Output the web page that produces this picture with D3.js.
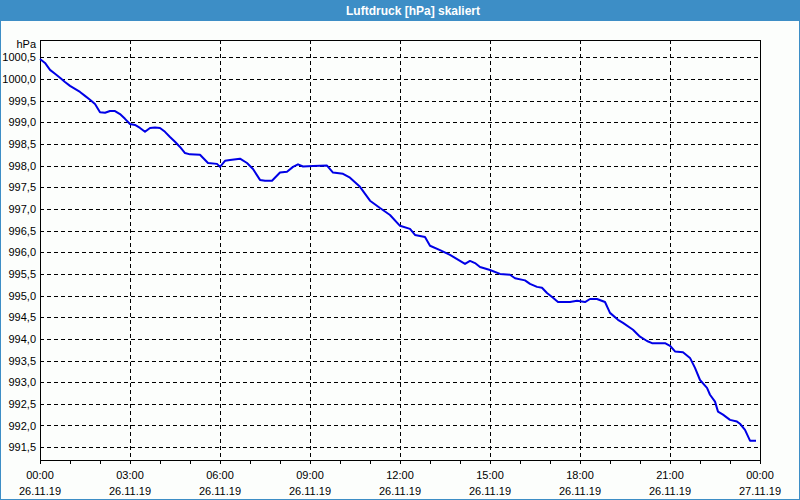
<!DOCTYPE html>
<html><head><meta charset="utf-8">
<script src="https://cdn.jsdelivr.net/npm/d3@7"></script>
<style>
html,body{margin:0;padding:0;background:#fff;}
svg{display:block;}
text{font-family:"Liberation Sans",Arial,sans-serif;}
</style></head>
<body>
<svg id="chart" width="800" height="500"></svg>
<script>
const title = "Luftdruck [hPa] skaliert";
const unitLabel = "hPa";
const dayStart = "2019-11-26T00:00";
const dayEnd = "2019-11-27T00:00";
const times = ["00:00","00:10","00:20","00:30","00:40","00:50","01:00","01:10","01:20","01:30","01:40","01:50",
"02:00","02:10","02:20","02:30","02:40","02:50","03:00","03:10","03:20","03:30","03:40","03:50",
"04:00","04:10","04:20","04:30","04:40","04:50","05:00","05:20","05:36","05:54","06:00","06:10","06:20","06:40","06:54",
"07:06","07:20","07:30","07:44","08:00","08:14","08:26","08:36","08:46","09:06","09:34","09:46",
"10:06","10:20","10:40","11:00","11:20","11:40","12:00","12:20","12:30","12:50","13:00","13:20","13:40",
"14:00","14:10","14:20","14:30","14:40","15:00","15:20","15:40","15:50","16:10","16:20","16:34","16:44","16:54",
"17:06","17:16","17:40","17:54","18:10","18:20","18:34","18:50","19:00","19:16","19:26","19:46",
"20:00","20:14","20:24","20:50","21:00","21:10","21:26","21:40","21:50","22:00","22:14","22:20","22:30","22:36","22:46",
"23:00","23:14","23:20","23:30","23:40","23:52"];
const pressure = [1000.46,1000.37,1000.21,1000.12,1000.03,999.93,999.84,999.77,999.70,999.61,999.52,999.42,
999.23,999.22,999.26,999.26,999.19,999.08,998.96,998.94,998.87,998.78,998.87,998.88,
998.87,998.78,998.66,998.55,998.43,998.29,998.26,998.25,998.06,998.04,997.97,998.11,998.13,998.16,998.06,
997.92,997.67,997.65,997.65,997.84,997.86,997.97,998.03,997.98,997.99,998.00,997.84,
997.81,997.72,997.51,997.19,997.02,996.86,996.61,996.54,996.40,996.35,996.15,996.05,995.94,
995.80,995.73,995.80,995.75,995.66,995.59,995.50,995.48,995.40,995.35,995.27,995.20,995.18,995.06,
994.95,994.85,994.85,994.88,994.85,994.92,994.92,994.85,994.60,994.44,994.37,994.21,
994.05,993.95,993.90,993.90,993.84,993.71,993.69,993.56,993.33,993.05,992.87,992.71,992.55,992.32,992.25,
992.13,992.09,992.04,991.90,991.65,991.65];
const yTicks = [991.5,992.0,992.5,993.0,993.5,994.0,994.5,995.0,995.5,996.0,996.5,997.0,997.5,998.0,998.5,999.0,999.5,1000.0,1000.5];
const yDomain = [991.18, 1000.9];

const svg = d3.select("#chart");
const W = 800, H = 500;
const m = {left:40, right:40, top:40, bottom:40};
const parseT = d3.timeParse("%Y-%m-%dT%H:%M");
const t0 = parseT(dayStart), t1 = parseT(dayEnd);
const data = times.map((t,i)=>({t: parseT("2019-11-26T"+t), v: pressure[i]}));

// frame
svg.append("rect").attr("x",0).attr("y",0).attr("width",W).attr("height",H).attr("fill","#fcfefc");
svg.append("rect").attr("x",0.5).attr("y",0.5).attr("width",W-1).attr("height",H-1).attr("fill","none").attr("stroke","#3d8ec6");
svg.append("rect").attr("x",0).attr("y",0).attr("width",W).attr("height",21).attr("fill","#3d8ec6");
svg.append("text").attr("x",413).attr("y",15).attr("text-anchor","middle").attr("fill","#fff")
  .attr("font-weight","bold").attr("font-size","12px").text(title);

const x = d3.scaleTime().domain([t0,t1]).range([m.left, W-m.right]);
const y = d3.scaleLinear().domain(yDomain).range([H-m.bottom+1, m.top]);
const loc = d3.formatLocale({decimal:",", thousands:".", grouping:[3], currency:["",""]});
const fmt = loc.format(".1f");

// horizontal grid
svg.append("g").selectAll("line").data(yTicks).join("line")
  .attr("x1",m.left).attr("x2",W-m.right)
  .attr("y1",d=>Math.round(y(d))+0.5).attr("y2",d=>Math.round(y(d))+0.5)
  .attr("stroke","#000").attr("stroke-dasharray","4,3");
// vertical grid
const major = d3.timeHour.every(3).range(t0, d3.timeMinute.offset(t1,1));
svg.append("g").selectAll("line").data(major.filter(d=>+d!==+t0 && +d!==+t1)).join("line")
  .attr("x1",d=>Math.round(x(d))+0.5).attr("x2",d=>Math.round(x(d))+0.5)
  .attr("y1",m.top).attr("y2",H-m.bottom+1)
  .attr("stroke","#000").attr("stroke-dasharray","4,3");

// y axis labels
const yAxis = d3.axisLeft(y).tickValues(yTicks).tickSize(0).tickPadding(4).tickFormat(fmt);
const gy = svg.append("g").attr("transform",`translate(${m.left},0)`).call(yAxis);
gy.select(".domain").remove();
gy.selectAll("text").attr("font-size","11px").attr("fill","#000").attr("font-family","Liberation Sans, Arial, sans-serif");
svg.append("text").attr("x",m.left-4).attr("y",48).attr("text-anchor","end").attr("font-size","11px").text(unitLabel);

// x axis minor ticks
const xAxis = d3.axisBottom(x).ticks(d3.timeHour.every(1)).tickSize(3).tickFormat("");
const gx = svg.append("g").attr("transform",`translate(0,${H-m.bottom+1})`).call(xAxis);
gx.select(".domain").remove();
gx.selectAll("line").attr("stroke","#000");

// x labels
const fTime = d3.timeFormat("%H:%M"), fDate = d3.timeFormat("%d.%m.%y");
const lab = svg.append("g").selectAll("g").data(major).join("g").attr("transform",d=>`translate(${x(d)},0)`);
lab.append("text").attr("y",479).attr("text-anchor","middle").attr("font-size","11px").text(d=>fTime(d));
lab.append("text").attr("y",495).attr("text-anchor","middle").attr("font-size","11px").text(d=>fDate(d));

// plot border
svg.append("rect").attr("x",m.left+0.5).attr("y",m.top+0.5).attr("width",W-m.left-m.right).attr("height",H-m.top-m.bottom)
  .attr("fill","none").attr("stroke","#000");

// line
const line = d3.line().x(d=>x(d.t)).y(d=>y(d.v));
svg.append("path").datum(data).attr("d",line).attr("fill","none").attr("stroke","#0000e6").attr("stroke-width",2).attr("stroke-linejoin","round");
</script>
</body></html>
